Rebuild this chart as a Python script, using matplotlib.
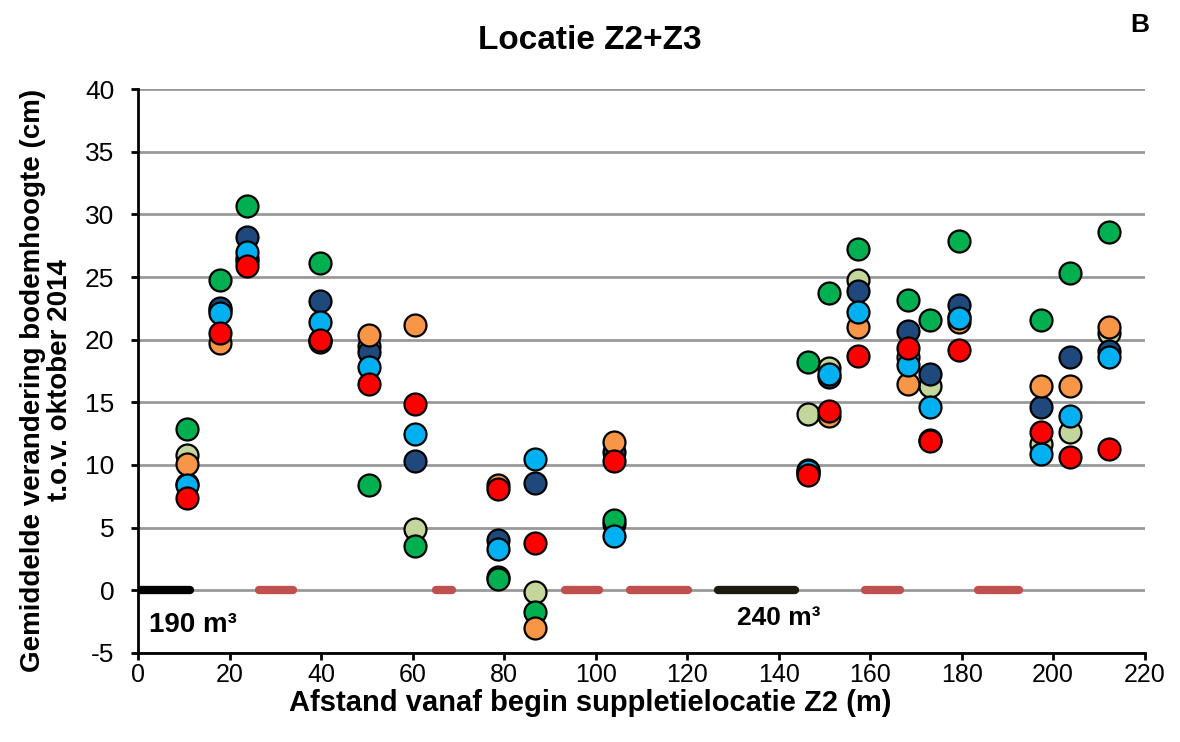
import matplotlib.pyplot as plt

plt.rcParams['font.family'] = ['Liberation Sans', 'DejaVu Sans']
plt.rcParams['axes.unicode_minus'] = False

# afstand (m) per raai
afstand = [10.7, 17.9, 23.8, 39.8, 50.5, 60.5, 78.7, 86.7, 104.0,
           146.4, 151.0, 157.3, 168.2, 173.2, 179.4, 197.3, 203.8, 212.3]

# gemiddelde verandering (cm) per meetmoment
lichtgroen = [10.8, 22.4, 26.5, 20.0, 19.5, 4.9, 1.1, -0.1, 5.3,
              14.1, 17.7, 24.8, 18.6, 16.3, 21.8, 11.7, 12.6, 20.5]
donkerblauw = [8.5, 22.5, 28.2, 23.1, 19.0, 10.3, 4.0, 8.6, 11.0,
               9.6, 17.0, 23.9, 20.7, 17.3, 22.8, 14.6, 18.6, 19.1]
groen = [12.9, 24.8, 30.7, 26.1, 8.4, 3.5, 0.9, -1.7, 5.6,
         18.2, 23.7, 27.2, 23.2, 21.6, 27.9, 21.6, 25.3, 28.6]
oranje = [10.1, 19.7, 26.3, 19.8, 20.4, 21.2, 8.4, -3.0, 11.8,
          9.4, 13.9, 21.0, 16.5, 12.0, 21.4, 16.3, 16.3, 21.0]
lichtblauw = [8.4, 22.1, 27.0, 21.4, 17.8, 12.5, 3.3, 10.5, 4.3,
              9.5, 17.3, 22.2, 18.0, 14.6, 21.7, 10.9, 13.9, 18.6]
rood = [7.4, 20.5, 25.9, 20.0, 16.5, 14.9, 8.1, 3.8, 10.3,
        9.2, 14.3, 18.7, 19.3, 11.9, 19.2, 12.6, 10.6, 11.3]

reeksen = [lichtgroen, donkerblauw, groen, oranje, lichtblauw, rood]
kleuren = ['#C3D69B', '#1F497D', '#00B050', '#F79646', '#00B0F0', '#FF0000']

# suppletie-trajecten op de nullijn (van, tot)
zand_zwart = [(0, 11.3), (126.7, 143.5)]
zand_rood = [(26.4, 33.9), (65.2, 68.7), (93.3, 100.8), (107.6, 120.2),
             (158.8, 166.6), (183.5, 192.6)]

fig = plt.figure(figsize=(11.8, 7.42), dpi=100)
ax = fig.add_axes([0.117, 0.12, 0.853, 0.76])

ax.set_xlim(0, 220)
ax.set_ylim(-5, 40)
ax.set_xticks(range(0, 221, 20))
ax.set_yticks(range(-5, 41, 5))
ax.yaxis.grid(True, color='#999999', linewidth=2, zorder=0)
ax.set_axisbelow(True)

for (a, b), c in zip(zand_zwart, ['black', '#1D1B10']):
    ax.plot([a, b], [0, 0], color=c, linewidth=6, solid_capstyle='round', zorder=2)
for a, b in zand_rood:
    ax.plot([a, b], [0, 0], color='#C0504D', linewidth=6, solid_capstyle='round', zorder=2)

for waarden, kleur in zip(reeksen, kleuren):
    ax.scatter(afstand, waarden, s=250, color=kleur, edgecolors='black',
               linewidths=1.6, zorder=3)

for s in ['top', 'right']:
    ax.spines[s].set_visible(False)
for s in ['left', 'bottom']:
    ax.spines[s].set_linewidth(2)
ax.tick_params(axis='x', length=5, width=2, labelsize=18, pad=2, direction='out')
ax.tick_params(axis='y', length=5, width=2, labelsize=19, pad=12, direction='out')

ax.text(2.5, -2.8, '190 m³', fontsize=20, fontweight='bold', va='center')
ax.text(131, -2.2, '240 m³', fontsize=19, fontweight='bold', va='center')

fig.text(0.5, 1 - 703 / 742, 'Afstand vanaf begin suppletielocatie Z2 (m)',
         fontsize=21, fontweight='bold', ha='center', va='center')
fig.text(47 / 1180, 1 - 380 / 742,
         'Gemiddelde verandering bodemhoogte (cm)\nt.o.v. oktober 2014',
         fontsize=20, fontweight='bold', rotation=90, ha='center', va='center',
         multialignment='center', linespacing=1.05)
fig.text(0.5, 0.946, 'Locatie Z2+Z3', fontsize=24, fontweight='bold',
         ha='center', va='center')
fig.text(0.966, 0.966, 'B', fontsize=19, fontweight='bold', ha='center', va='center')

plt.savefig('out.png', dpi=100)
